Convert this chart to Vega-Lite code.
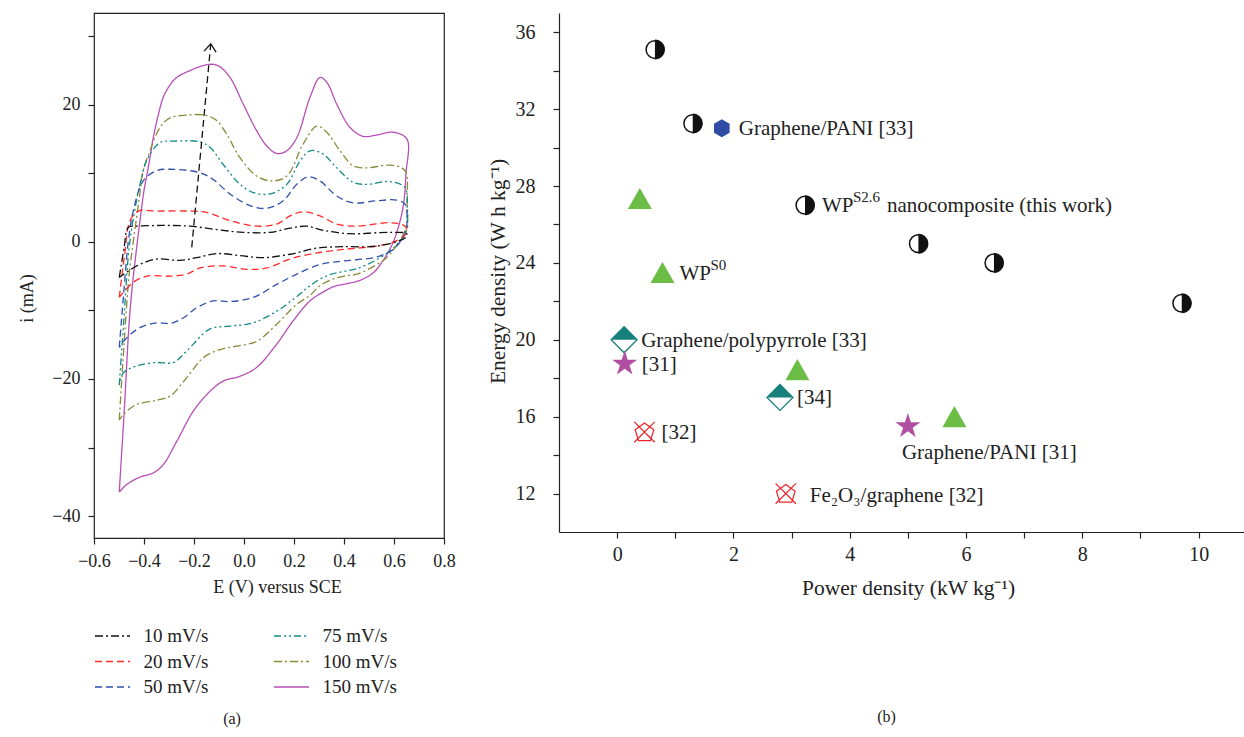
{
  "$schema": "https://vega.github.io/schema/vega-lite/v6.json",
  "background": "white",
  "padding": {"left": 18, "top": 12, "right": 0, "bottom": 0},
  "bounds": "flush",
  "spacing": 115,
  "config": {
    "font": "Liberation Serif",
    "point": {"opacity": 1},
    "axis": {"labelFont": "Liberation Serif", "titleFont": "Liberation Serif", "titleFontWeight": "normal", "labelColor": "#222", "titleColor": "#222", "domainColor": "#222", "tickColor": "#222", "grid": false, "labelOverlap": false, "labelFlush": false, "tickSize": 6, "domainWidth": 1.2, "tickWidth": 1.2},
    "title": {"font": "Liberation Serif", "fontWeight": "normal", "color": "#222"}
  },
  "datasets": {
    "cv": [
      {"rate":"150 mV/s","E":-0.499,"i":-36.5},{"rate":"150 mV/s","E":-0.478,"i":-24},{"rate":"150 mV/s","E":-0.456,"i":-10.1},{"rate":"150 mV/s","E":-0.43,"i":-1},{"rate":"150 mV/s","E":-0.416,"i":3.1},{"rate":"150 mV/s","E":-0.4,"i":7.5},{"rate":"150 mV/s","E":-0.383,"i":10.8},{"rate":"150 mV/s","E":-0.363,"i":15.2},{"rate":"150 mV/s","E":-0.343,"i":18.5},{"rate":"150 mV/s","E":-0.323,"i":21.1},{"rate":"150 mV/s","E":-0.296,"i":22.9},{"rate":"150 mV/s","E":-0.269,"i":24.0},{"rate":"150 mV/s","E":-0.216,"i":25.0},{"rate":"150 mV/s","E":-0.143,"i":25.9},{"rate":"150 mV/s","E":-0.103,"i":25.7},{"rate":"150 mV/s","E":-0.056,"i":24.0},{"rate":"150 mV/s","E":-0.003,"i":20.1},{"rate":"150 mV/s","E":0.051,"i":16.2},{"rate":"150 mV/s","E":0.091,"i":14.0},{"rate":"150 mV/s","E":0.131,"i":12.9},{"rate":"150 mV/s","E":0.171,"i":13.3},{"rate":"150 mV/s","E":0.211,"i":15.2},{"rate":"150 mV/s","E":0.264,"i":21.1},{"rate":"150 mV/s","E":0.304,"i":24.0},{"rate":"150 mV/s","E":0.331,"i":23.3},{"rate":"150 mV/s","E":0.371,"i":20.1},{"rate":"150 mV/s","E":0.424,"i":16.7},{"rate":"150 mV/s","E":0.477,"i":15.4},{"rate":"150 mV/s","E":0.531,"i":15.6},{"rate":"150 mV/s","E":0.597,"i":16.0},{"rate":"150 mV/s","E":0.652,"i":15.0},{"rate":"150 mV/s","E":0.648,"i":10},{"rate":"150 mV/s","E":0.64,"i":6.0},{"rate":"150 mV/s","E":0.624,"i":3.0},{"rate":"150 mV/s","E":0.597,"i":0.0},{"rate":"150 mV/s","E":0.56,"i":-2.5},{"rate":"150 mV/s","E":0.517,"i":-4.5},{"rate":"150 mV/s","E":0.464,"i":-5.6},{"rate":"150 mV/s","E":0.411,"i":-6.1},{"rate":"150 mV/s","E":0.36,"i":-6.5},{"rate":"150 mV/s","E":0.317,"i":-7.3},{"rate":"150 mV/s","E":0.264,"i":-8.6},{"rate":"150 mV/s","E":0.197,"i":-11.5},{"rate":"150 mV/s","E":0.131,"i":-14.9},{"rate":"150 mV/s","E":0.051,"i":-18.3},{"rate":"150 mV/s","E":-0.016,"i":-19.6},{"rate":"150 mV/s","E":-0.083,"i":-20.3},{"rate":"150 mV/s","E":-0.136,"i":-21.8},{"rate":"150 mV/s","E":-0.203,"i":-24.7},{"rate":"150 mV/s","E":-0.269,"i":-29.1},{"rate":"150 mV/s","E":-0.323,"i":-32.5},{"rate":"150 mV/s","E":-0.363,"i":-33.7},{"rate":"150 mV/s","E":-0.416,"i":-34.3},{"rate":"150 mV/s","E":-0.469,"i":-35.4},{"rate":"150 mV/s","E":-0.499,"i":-36.5},
      {"rate":"100 mV/s","E":-0.499,"i":-26.0},{"rate":"100 mV/s","E":-0.48,"i":-15},{"rate":"100 mV/s","E":-0.46,"i":-5},{"rate":"100 mV/s","E":-0.443,"i":0},{"rate":"100 mV/s","E":-0.42,"i":6},{"rate":"100 mV/s","E":-0.403,"i":10.4},{"rate":"100 mV/s","E":-0.376,"i":13.3},{"rate":"100 mV/s","E":-0.336,"i":16.7},{"rate":"100 mV/s","E":-0.296,"i":18.1},{"rate":"100 mV/s","E":-0.229,"i":18.5},{"rate":"100 mV/s","E":-0.156,"i":18.5},{"rate":"100 mV/s","E":-0.109,"i":17.7},{"rate":"100 mV/s","E":-0.069,"i":15.7},{"rate":"100 mV/s","E":-0.016,"i":12.3},{"rate":"100 mV/s","E":0.051,"i":9.6},{"rate":"100 mV/s","E":0.111,"i":8.9},{"rate":"100 mV/s","E":0.171,"i":9.6},{"rate":"100 mV/s","E":0.237,"i":14.3},{"rate":"100 mV/s","E":0.291,"i":16.9},{"rate":"100 mV/s","E":0.331,"i":16.0},{"rate":"100 mV/s","E":0.384,"i":13.3},{"rate":"100 mV/s","E":0.437,"i":11.1},{"rate":"100 mV/s","E":0.491,"i":10.8},{"rate":"100 mV/s","E":0.584,"i":11.2},{"rate":"100 mV/s","E":0.644,"i":10.4},{"rate":"100 mV/s","E":0.652,"i":6},{"rate":"100 mV/s","E":0.652,"i":2.5},{"rate":"100 mV/s","E":0.62,"i":0},{"rate":"100 mV/s","E":0.57,"i":-2.3},{"rate":"100 mV/s","E":0.517,"i":-3.6},{"rate":"100 mV/s","E":0.451,"i":-4.7},{"rate":"100 mV/s","E":0.4,"i":-5.0},{"rate":"100 mV/s","E":0.35,"i":-5.5},{"rate":"100 mV/s","E":0.3,"i":-6.5},{"rate":"100 mV/s","E":0.264,"i":-7.8},{"rate":"100 mV/s","E":0.211,"i":-9.1},{"rate":"100 mV/s","E":0.131,"i":-12.0},{"rate":"100 mV/s","E":0.051,"i":-14.5},{"rate":"100 mV/s","E":-0.029,"i":-15.2},{"rate":"100 mV/s","E":-0.096,"i":-15.7},{"rate":"100 mV/s","E":-0.163,"i":-16.9},{"rate":"100 mV/s","E":-0.229,"i":-19.8},{"rate":"100 mV/s","E":-0.296,"i":-22.5},{"rate":"100 mV/s","E":-0.349,"i":-23.1},{"rate":"100 mV/s","E":-0.429,"i":-23.7},{"rate":"100 mV/s","E":-0.483,"i":-25.2},{"rate":"100 mV/s","E":-0.499,"i":-26.0},
      {"rate":"75 mV/s","E":-0.499,"i":-20.9},{"rate":"75 mV/s","E":-0.48,"i":-11},{"rate":"75 mV/s","E":-0.46,"i":-1},{"rate":"75 mV/s","E":-0.44,"i":4},{"rate":"75 mV/s","E":-0.416,"i":8.4},{"rate":"75 mV/s","E":-0.39,"i":11.8},{"rate":"75 mV/s","E":-0.336,"i":14.5},{"rate":"75 mV/s","E":-0.283,"i":14.7},{"rate":"75 mV/s","E":-0.176,"i":14.6},{"rate":"75 mV/s","E":-0.136,"i":13.8},{"rate":"75 mV/s","E":-0.083,"i":11.3},{"rate":"75 mV/s","E":-0.016,"i":8.4},{"rate":"75 mV/s","E":0.037,"i":7.2},{"rate":"75 mV/s","E":0.104,"i":7.0},{"rate":"75 mV/s","E":0.171,"i":8.4},{"rate":"75 mV/s","E":0.224,"i":11.8},{"rate":"75 mV/s","E":0.264,"i":13.3},{"rate":"75 mV/s","E":0.317,"i":12.8},{"rate":"75 mV/s","E":0.371,"i":10.8},{"rate":"75 mV/s","E":0.437,"i":8.7},{"rate":"75 mV/s","E":0.491,"i":8.4},{"rate":"75 mV/s","E":0.584,"i":8.8},{"rate":"75 mV/s","E":0.644,"i":7.9},{"rate":"75 mV/s","E":0.652,"i":4},{"rate":"75 mV/s","E":0.652,"i":1.8},{"rate":"75 mV/s","E":0.6,"i":-0.8},{"rate":"75 mV/s","E":0.531,"i":-2.6},{"rate":"75 mV/s","E":0.451,"i":-3.9},{"rate":"75 mV/s","E":0.4,"i":-4.3},{"rate":"75 mV/s","E":0.35,"i":-4.7},{"rate":"75 mV/s","E":0.3,"i":-5.5},{"rate":"75 mV/s","E":0.25,"i":-6.8},{"rate":"75 mV/s","E":0.2,"i":-8.3},{"rate":"75 mV/s","E":0.131,"i":-10.1},{"rate":"75 mV/s","E":0.037,"i":-11.8},{"rate":"75 mV/s","E":-0.056,"i":-12.3},{"rate":"75 mV/s","E":-0.136,"i":-12.7},{"rate":"75 mV/s","E":-0.229,"i":-15.9},{"rate":"75 mV/s","E":-0.283,"i":-17.6},{"rate":"75 mV/s","E":-0.349,"i":-17.6},{"rate":"75 mV/s","E":-0.429,"i":-18.1},{"rate":"75 mV/s","E":-0.483,"i":-19.1},{"rate":"75 mV/s","E":-0.499,"i":-20.9},
      {"rate":"50 mV/s","E":-0.499,"i":-15.4},{"rate":"50 mV/s","E":-0.48,"i":-7},{"rate":"50 mV/s","E":-0.463,"i":0},{"rate":"50 mV/s","E":-0.443,"i":4.5},{"rate":"50 mV/s","E":-0.403,"i":8.9},{"rate":"50 mV/s","E":-0.349,"i":10.4},{"rate":"50 mV/s","E":-0.296,"i":10.6},{"rate":"50 mV/s","E":-0.176,"i":10.1},{"rate":"50 mV/s","E":-0.123,"i":9.1},{"rate":"50 mV/s","E":-0.056,"i":7.0},{"rate":"50 mV/s","E":0.024,"i":5.3},{"rate":"50 mV/s","E":0.091,"i":4.9},{"rate":"50 mV/s","E":0.157,"i":6.0},{"rate":"50 mV/s","E":0.211,"i":8.4},{"rate":"50 mV/s","E":0.257,"i":9.5},{"rate":"50 mV/s","E":0.304,"i":8.9},{"rate":"50 mV/s","E":0.371,"i":6.7},{"rate":"50 mV/s","E":0.437,"i":5.7},{"rate":"50 mV/s","E":0.531,"i":6.0},{"rate":"50 mV/s","E":0.611,"i":6.1},{"rate":"50 mV/s","E":0.644,"i":5.5},{"rate":"50 mV/s","E":0.652,"i":3},{"rate":"50 mV/s","E":0.645,"i":1.3},{"rate":"50 mV/s","E":0.6,"i":-1.0},{"rate":"50 mV/s","E":0.531,"i":-2.2},{"rate":"50 mV/s","E":0.45,"i":-2.6},{"rate":"50 mV/s","E":0.37,"i":-2.9},{"rate":"50 mV/s","E":0.304,"i":-3.3},{"rate":"50 mV/s","E":0.211,"i":-4.7},{"rate":"50 mV/s","E":0.131,"i":-6.2},{"rate":"50 mV/s","E":0.037,"i":-8.1},{"rate":"50 mV/s","E":-0.056,"i":-8.7},{"rate":"50 mV/s","E":-0.123,"i":-8.6},{"rate":"50 mV/s","E":-0.189,"i":-9.6},{"rate":"50 mV/s","E":-0.243,"i":-11.1},{"rate":"50 mV/s","E":-0.296,"i":-11.9},{"rate":"50 mV/s","E":-0.349,"i":-11.8},{"rate":"50 mV/s","E":-0.416,"i":-12.5},{"rate":"50 mV/s","E":-0.469,"i":-14.0},{"rate":"50 mV/s","E":-0.499,"i":-15.4},
      {"rate":"20 mV/s","E":-0.499,"i":-8.1},{"rate":"20 mV/s","E":-0.478,"i":-2},{"rate":"20 mV/s","E":-0.456,"i":3.1},{"rate":"20 mV/s","E":-0.423,"i":4.5},{"rate":"20 mV/s","E":-0.349,"i":4.5},{"rate":"20 mV/s","E":-0.216,"i":4.5},{"rate":"20 mV/s","E":-0.149,"i":4.3},{"rate":"20 mV/s","E":-0.056,"i":3.1},{"rate":"20 mV/s","E":0.051,"i":2.3},{"rate":"20 mV/s","E":0.131,"i":2.6},{"rate":"20 mV/s","E":0.184,"i":3.8},{"rate":"20 mV/s","E":0.237,"i":4.4},{"rate":"20 mV/s","E":0.304,"i":3.8},{"rate":"20 mV/s","E":0.371,"i":2.6},{"rate":"20 mV/s","E":0.451,"i":2.3},{"rate":"20 mV/s","E":0.584,"i":2.8},{"rate":"20 mV/s","E":0.644,"i":2.3},{"rate":"20 mV/s","E":0.652,"i":1.4},{"rate":"20 mV/s","E":0.6,"i":0.0},{"rate":"20 mV/s","E":0.531,"i":-0.6},{"rate":"20 mV/s","E":0.397,"i":-1.1},{"rate":"20 mV/s","E":0.291,"i":-1.6},{"rate":"20 mV/s","E":0.184,"i":-2.5},{"rate":"20 mV/s","E":0.091,"i":-3.8},{"rate":"20 mV/s","E":0.011,"i":-4.0},{"rate":"20 mV/s","E":-0.083,"i":-3.5},{"rate":"20 mV/s","E":-0.176,"i":-3.8},{"rate":"20 mV/s","E":-0.229,"i":-4.7},{"rate":"20 mV/s","E":-0.296,"i":-5.0},{"rate":"20 mV/s","E":-0.389,"i":-5.0},{"rate":"20 mV/s","E":-0.443,"i":-5.9},{"rate":"20 mV/s","E":-0.499,"i":-8.1},
      {"rate":"10 mV/s","E":-0.499,"i":-5.2},{"rate":"10 mV/s","E":-0.48,"i":-1},{"rate":"10 mV/s","E":-0.463,"i":2.1},{"rate":"10 mV/s","E":-0.429,"i":2.3},{"rate":"10 mV/s","E":-0.323,"i":2.4},{"rate":"10 mV/s","E":-0.216,"i":2.3},{"rate":"10 mV/s","E":-0.109,"i":1.8},{"rate":"10 mV/s","E":-0.003,"i":1.4},{"rate":"10 mV/s","E":0.104,"i":1.4},{"rate":"10 mV/s","E":0.184,"i":2.0},{"rate":"10 mV/s","E":0.251,"i":2.3},{"rate":"10 mV/s","E":0.317,"i":1.7},{"rate":"10 mV/s","E":0.424,"i":1.2},{"rate":"10 mV/s","E":0.584,"i":1.4},{"rate":"10 mV/s","E":0.651,"i":1.2},{"rate":"10 mV/s","E":0.645,"i":0.6},{"rate":"10 mV/s","E":0.531,"i":-0.6},{"rate":"10 mV/s","E":0.397,"i":-0.7},{"rate":"10 mV/s","E":0.291,"i":-0.9},{"rate":"10 mV/s","E":0.184,"i":-1.8},{"rate":"10 mV/s","E":0.077,"i":-2.3},{"rate":"10 mV/s","E":-0.016,"i":-2.0},{"rate":"10 mV/s","E":-0.109,"i":-1.7},{"rate":"10 mV/s","E":-0.189,"i":-2.3},{"rate":"10 mV/s","E":-0.256,"i":-2.7},{"rate":"10 mV/s","E":-0.349,"i":-2.5},{"rate":"10 mV/s","E":-0.429,"i":-3.5},{"rate":"10 mV/s","E":-0.499,"i":-5.2}
    ],
    "arrow": [{"E1": -0.209, "i1": -0.8, "E2": -0.133, "i2": 28.9}],
    "pts": [
      {"kind":"WPS2.6","power":0.65,"energy":35.1},{"kind":"WPS2.6","power":1.3,"energy":31.25},{"kind":"WPS2.6","power":3.23,"energy":27.0},{"kind":"WPS2.6","power":5.18,"energy":25.0},{"kind":"WPS2.6","power":6.48,"energy":24.0},{"kind":"WPS2.6","power":9.71,"energy":21.9},
      {"kind":"WPS0","power":0.39,"energy":27.35},{"kind":"WPS0","power":0.78,"energy":23.5},{"kind":"WPS0","power":3.1,"energy":18.45},{"kind":"WPS0","power":5.8,"energy":16.0},
      {"kind":"Graphene/PANI [33]","power":1.8,"energy":31.0},
      {"kind":"Graphene/polypyrrole","power":0.12,"energy":20.0},{"kind":"Graphene/polypyrrole","power":2.8,"energy":17.0},
      {"kind":"Graphene/PANI [31]","power":0.13,"energy":18.75},{"kind":"Graphene/PANI [31]","power":5.0,"energy":15.5},
      {"kind":"Fe2O3/graphene [32]","power":0.47,"energy":15.2},{"kind":"Fe2O3/graphene [32]","power":2.9,"energy":12.0}
    ],
    "labels": [
      {"power":1.8,"energy":31.0,"label":"Graphene/PANI [33]"},
      {"power":0.12,"energy":20.0,"label":"Graphene/polypyrrole [33]"},
      {"power":0.13,"energy":18.75,"label":"[31]"},
      {"power":2.8,"energy":17.0,"label":"[34]"},
      {"power":0.47,"energy":15.2,"label":"[32]"},
      {"power":2.9,"energy":12.0,"label":"Fe₂O₃/graphene [32]"},
      {"power":5.0,"energy":15.5,"label":"Graphene/PANI [31]"},
      {"power":3.23,"energy":27.0,"label":"WP"},
      {"power":0.78,"energy":23.5,"label":"WP"}
    ],
    "sups": [
      {"power":3.23,"energy":27.0,"sup":"S2.6","rest":"nanocomposite (this work)"},
      {"power":0.78,"energy":23.5,"sup":"S0","rest":""}
    ]
  },
  "hconcat": [
    {
      "width": 350,
      "height": 525,
      "view": {"stroke": "#222", "strokeWidth": 1.2},
      "title": {"text": "(a)", "orient": "bottom", "anchor": "middle", "frame": "group", "dx": -37, "offset": 115, "fontSize": 16},
      "layer": [
        {
          "data": {"name": "cv"},
          "mark": {"type": "line", "interpolate": "catmull-rom", "strokeWidth": 1.3},
          "encoding": {
            "x": {"field": "E", "type": "quantitative", "scale": {"domain": [-0.6, 0.8], "nice": false, "zero": false},
                  "axis": {"title": "E (V) versus SCE", "values": [-0.6,-0.5,-0.4,-0.3,-0.2,-0.1,0,0.1,0.2,0.3,0.4,0.5,0.6,0.7,0.8],
                           "labelExpr": "abs(round(datum.value*10)) % 2 == 0 ? format(datum.value, '.1f') : ''",
                           "labelFontSize": 18, "titleFontSize": 18, "labelPadding": 8, "titlePadding": 8, "titleX": 183, "domain": false}},
            "y": {"field": "i", "type": "quantitative", "scale": {"domain": [-43.2, 33.4], "nice": false, "zero": false},
                  "axis": {"title": "i (mA)", "values": [-40,-30,-20,-10,0,10,20,30],
                           "labelExpr": "datum.value % 20 == 0 ? datum.label : ''",
                           "labelFontSize": 18, "titleFontSize": 18, "labelPadding": 8, "titlePadding": 15, "titleY": 285, "domain": false}},
            "color": {"field": "rate", "type": "nominal",
                      "scale": {"domain": ["10 mV/s","20 mV/s","50 mV/s","75 mV/s","100 mV/s","150 mV/s"],
                                "range": ["#111111","#ff2a2a","#3050ad","#138a88","#8a8a38","#b84fb6"]},
                      "legend": {"title": null, "orient": "none", "legendX": 0, "legendY": 612, "columns": 2, "symbolType": "M-1.75,0L1.75,0", "symbolSize": 400, "symbolOffset": 7.5, "symbolStrokeWidth": 1.3, "symbolFillColor": "transparent", "labelFontSize": 19, "labelFont": "Liberation Serif", "labelColor": "#222", "labelOffset": 20, "rowPadding": 4.5, "columnPadding": 62}},
            "strokeDash": {"field": "rate", "type": "nominal",
                      "scale": {"domain": ["10 mV/s","20 mV/s","50 mV/s","75 mV/s","100 mV/s","150 mV/s"],
                                "range": [[8,3,2,3],[7,4],[7,4],[7,3,2,3,2,3],[8,3,2,3],[1,0]]},
                      "legend": {"title": null, "orient": "none", "legendX": 0, "legendY": 612, "columns": 2, "symbolType": "M-1.75,0L1.75,0", "symbolSize": 400, "symbolOffset": 7.5, "symbolStrokeWidth": 1.3, "symbolFillColor": "transparent", "labelFontSize": 19, "labelFont": "Liberation Serif", "labelColor": "#222", "labelOffset": 20, "rowPadding": 4.5, "columnPadding": 62}},
            "order": {"value": null}
          }
        },
        {
          "data": {"name": "arrow"},
          "mark": {"type": "rule", "strokeDash": [7, 4], "color": "#111", "strokeWidth": 1.3},
          "encoding": {"x": {"field": "E1", "type": "quantitative"}, "y": {"field": "i1", "type": "quantitative"}, "x2": {"field": "E2"}, "y2": {"field": "i2"}}
        },
        {
          "data": {"name": "arrow"},
          "mark": {"type": "point", "shape": "M-1,1.3L0,0L1,1.3", "filled": false, "stroke": "#111", "strokeWidth": 1.3, "size": 144, "angle": 5},
          "encoding": {"x": {"field": "E2", "type": "quantitative"}, "y": {"field": "i2", "type": "quantitative"}}
        }
      ]
    },
    {
      "width": 685,
      "height": 519,
      "view": {"stroke": null},
      "title": {"text": "(b)", "orient": "bottom", "anchor": "middle", "frame": "group", "dx": -15, "offset": 110, "fontSize": 16},
      "encoding": {
        "x": {"field": "power", "type": "quantitative", "scale": {"domain": [-1, 10.78], "nice": false, "zero": false},
              "axis": {"title": "Power density (kW kg⁻¹)", "values": [0,1,2,3,4,5,6,7,8,9,10],
                       "labelExpr": "datum.value % 2 == 0 ? datum.label : ''",
                       "labelFontSize": 20, "titleFontSize": 21.5, "labelPadding": 6, "titlePadding": 13, "titleX": 349}},
        "y": {"field": "energy", "type": "quantitative", "scale": {"domain": [10, 37], "nice": false, "zero": false},
              "axis": {"title": "Energy density (W h kg⁻¹)", "values": [12,14,16,18,20,22,24,26,28,30,32,34,36],
                       "labelExpr": "datum.value % 4 == 0 ? datum.label : ''",
                       "labelFontSize": 20, "titleFontSize": 21.5, "labelPadding": 18, "titlePadding": 6, "titleY": 258}}
      },
      "layer": [
        {"data": {"values": [{}]}, "mark": {"type": "rule", "color": "#222", "strokeWidth": 1.2}, "encoding": {"y": {"datum": 37}}},
        {"data": {"name": "pts"}, "transform": [{"filter": "datum.kind == 'WPS2.6'"}],
         "mark": {"type": "point", "shape": "circle", "size": 314, "filled": true, "fill": "white", "stroke": "#111", "strokeWidth": 1.5}},
        {"data": {"name": "pts"}, "transform": [{"filter": "datum.kind == 'WPS2.6'"}],
         "mark": {"type": "point", "shape": "M0,-1A1,1 0 0 1 0,1Z", "size": 400, "filled": true, "fill": "#111", "strokeWidth": 0}},
        {"data": {"name": "pts"}, "transform": [{"filter": "datum.kind == 'Graphene/PANI [33]'"}],
         "mark": {"type": "point", "shape": "M0,-1L0.866,-0.5L0.866,0.5L0,1L-0.866,0.5L-0.866,-0.5Z", "size": 324, "filled": true, "fill": "#2f4ba3", "strokeWidth": 0}},
        {"data": {"name": "pts"}, "transform": [{"filter": "datum.kind == 'WPS0'"}],
         "mark": {"type": "point", "shape": "M0,-0.88L1,0.88L-1,0.88Z", "size": 576, "filled": true, "fill": "#6cbd45", "strokeWidth": 0}},
        {"data": {"name": "pts"}, "transform": [{"filter": "datum.kind == 'Graphene/polypyrrole'"}],
         "mark": {"type": "point", "shape": "M0,-1L1,0L0,1L-1,0Z", "size": 676, "filled": true, "fill": "white", "stroke": "#17807b", "strokeWidth": 1.3}},
        {"data": {"name": "pts"}, "transform": [{"filter": "datum.kind == 'Graphene/polypyrrole'"}],
         "mark": {"type": "point", "shape": "M-1,0L0,-1L1,0Z", "size": 676, "filled": true, "fill": "#17807b", "strokeWidth": 0}},
        {"data": {"name": "pts"}, "transform": [{"filter": "datum.kind == 'Graphene/PANI [31]'"}],
         "mark": {"type": "point", "shape": "M0,-1L0.2245,-0.309L0.951,-0.309L0.363,0.118L0.588,0.809L0,0.382L-0.588,0.809L-0.363,0.118L-0.951,-0.309L-0.2245,-0.309Z", "size": 700, "filled": true, "fill": "#b04fa2", "strokeWidth": 0}},
        {"data": {"name": "pts"}, "transform": [{"filter": "datum.kind == 'Fe2O3/graphene [32]'"}],
         "mark": {"type": "point", "shape": "M0,-0.75L0.78,-0.2L0.5,0.72L-0.5,0.72L-0.78,-0.2ZM-0.85,-0.85L0.85,0.85M0.85,-0.85L-0.85,0.85", "size": 576, "filled": false, "stroke": "#ec2227", "strokeWidth": 1.2}},
        {"data": {"name": "labels"}, "transform": [{"filter": "datum.label != 'Fe₂O₃/graphene [32]' && datum.label != 'Graphene/PANI [31]'"}],
         "mark": {"type": "text", "align": "left", "baseline": "middle", "dx": 17, "dy": 1, "fontSize": 21, "font": "Liberation Serif", "color": "#222"},
         "encoding": {"text": {"field": "label"}}},
        {"data": {"name": "labels"}, "transform": [{"filter": "datum.label == 'Fe₂O₃/graphene [32]'"}],
         "mark": {"type": "text", "align": "left", "baseline": "middle", "dx": 24, "dy": 2, "fontSize": 21, "font": "Liberation Serif", "color": "#222"},
         "encoding": {"text": {"field": "label"}}},
        {"data": {"name": "labels"}, "transform": [{"filter": "datum.label == 'Graphene/PANI [31]'"}],
         "mark": {"type": "text", "align": "left", "baseline": "middle", "dx": -6, "dy": 27, "fontSize": 21, "font": "Liberation Serif", "color": "#222"},
         "encoding": {"text": {"field": "label"}}},
        {"data": {"name": "sups"},
         "mark": {"type": "text", "align": "left", "baseline": "middle", "dx": 48, "dy": -8, "fontSize": 15, "font": "Liberation Serif", "color": "#222"},
         "encoding": {"text": {"field": "sup"}}},
        {"data": {"name": "sups"},
         "mark": {"type": "text", "align": "left", "baseline": "middle", "dx": 82, "dy": 1, "fontSize": 21, "font": "Liberation Serif", "color": "#222"},
         "encoding": {"text": {"field": "rest"}}}
      ]
    }
  ]
}
